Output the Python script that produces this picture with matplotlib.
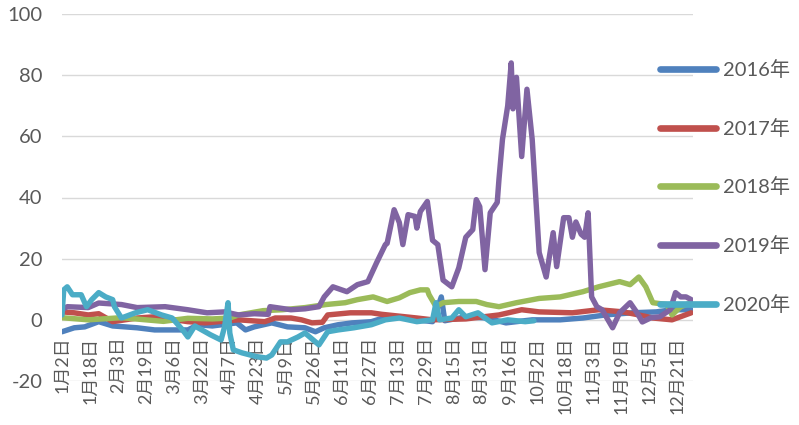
import numpy as np
import matplotlib
matplotlib.use('Agg')
import matplotlib.pyplot as plt

# day index on the category axis (0 = 1月2日) and values
d16 = [0, 7, 13, 21, 29, 43, 53, 72, 78, 86, 100, 105, 110, 120, 129, 139, 145, 150, 158, 166,
       177, 186, 193, 203, 212, 217, 219, 231, 243, 254, 269, 285, 298, 311, 326, 340, 349, 360]
v16 = [-3.9, -2.6, -2.3, -0.6, -2.0, -2.6, -3.3, -3.3, -1.6, -2.0, -1.0, -3.3, -2.3, -1.0, -2.3, -2.6, -3.9, -2.6, -1.6, -1.0,
       -0.6, 1.0, 1.0, 0.0, -0.6, 7.5, -0.3, 1.0, 0.6, -1.0, 0.0, 0.0, 0.6, 1.6, 2.3, 2.6, 3.3, 3.3]

d17 = [0, 7, 15, 21, 29, 43, 53, 72, 82, 101, 116, 122, 131, 137, 143, 149, 152, 165, 177, 183,
       203, 212, 231, 250, 263, 273, 292, 307, 321, 330, 338, 349, 360]
v17 = [2.6, 2.3, 1.6, 2.0, -0.6, 0.6, 1.0, -0.6, -1.0, 0.0, -0.6, 0.6, 0.6, 0.0, -1.0, -0.8, 1.6, 2.3, 2.3, 1.8,
       0.6, 0.0, 0.3, 1.6, 3.3, 2.6, 2.3, 3.3, 2.6, 1.6, 0.6, 0.0, 2.3]

d18 = [0, 15, 34, 58, 72, 86, 96, 101, 115, 126, 139, 151, 162, 169, 178, 186, 193, 199, 205, 209,
       210, 214, 218, 227, 237, 243, 250, 260, 273, 285, 298, 307, 319, 325, 330, 334, 338, 346, 349, 354, 360]
v18 = [0.7, 0.0, 0.7, -0.5, 0.5, 0.3, 0.6, 1.6, 3.0, 3.3, 4.0, 5.0, 5.6, 6.6, 7.5, 6.0, 7.2, 8.9, 9.8, 9.8,
       8.2, 4.3, 5.6, 6.0, 6.0, 5.0, 4.3, 5.6, 7.0, 7.5, 9.2, 10.8, 12.5, 11.5, 14, 10.8, 5.6, 5.0, 1.6, 4.3, 5.6]

d19 = [0, 3, 15, 21, 34, 43, 59, 72, 83, 93, 101, 110, 118, 119, 131, 139, 147, 150, 155, 163,
       169, 175, 180, 185, 186, 190, 193, 195, 198, 202, 203, 205, 209, 212, 215, 218, 223, 227, 231, 235,
       237, 239, 242, 245, 249, 250, 252, 255, 257, 258, 260, 263, 266, 269, 273, 277, 281, 283, 287, 290,
       292, 294, 297, 299, 301, 303, 306, 309, 315, 319, 325, 329, 332, 337, 342, 348, 351, 354, 357, 360]
v19 = [3.3, 4.3, 4.0, 5.5, 5.0, 4.0, 4.3, 3.3, 2.3, 2.6, 1.6, 2.0, 1.8, 4.3, 3.3, 3.6, 4.3, 7.5, 10.8, 9.2,
       11.5, 12.5, 18.7, 24.6, 25, 36, 31.8, 24.6, 34.4, 33.8, 30, 35.4, 38.7, 26, 24.6, 13, 10.8, 17, 27, 29.5,
       39.3, 37, 16.4, 35, 38.4, 46, 59, 70, 84, 69, 79.3, 53.4, 75.4, 59, 22, 14, 28.5, 17.4, 33.4, 33.4,
       27, 32, 28, 27, 35, 7.5, 4.3, 3.3, -2.6, 2.3, 5.6, 2.3, -0.7, 0.7, 1.0, 3.3, 8.9, 7.5, 7.5, 6.6]

d20 = [0, 1, 3, 6, 11, 14, 17, 21, 25, 29, 30, 34, 42, 49, 57, 63, 69, 72, 76, 80,
       85, 91, 93, 95, 96, 98, 103, 111, 117, 120, 125, 129, 135, 139, 145, 147, 152, 158, 167, 177,
       185, 193, 203, 212, 214, 216, 223, 227, 231, 238, 246, 255, 265, 270]
v20 = [1.6, 9.8, 10.8, 8.2, 8.2, 4.3, 6.6, 8.9, 7.5, 6.6, 4.3, 0.6, 2.3, 3.3, 1.6, 0.6, -3.3, -5.6, -2.0, -3.3,
       -4.9, -6.6, -2.3, 5.6, -4.3, -9.8, -10.8, -12.0, -12.5, -11.5, -7.2, -7.2, -5.6, -4.3, -7.2, -8.2, -3.9, -3.3, -2.6, -1.6,
       0.0, 0.6, -0.6, 0.0, 5.6, 0.0, 0.6, 3.3, 1.0, 2.3, -1.0, 0.0, -0.6, -0.3]

years = ['2016年', '2017年', '2018年', '2019年', '2020年']
colors = ['#4F81BD', '#C0504D', '#9BBB59', '#8064A2', '#4BACC6']

tick_labels = ['1月2日', '1月18日', '2月3日', '2月19日', '3月6日', '3月22日', '4月7日', '4月23日',
               '5月9日', '5月26日', '6月11日', '6月27日', '7月13日', '7月29日', '8月15日', '8月31日',
               '9月16日', '10月2日', '10月18日', '11月3日', '11月19日', '12月5日', '12月21日']
n_days = 362

plt.rcParams['font.family'] = ['Lato', 'Noto Sans CJK SC', 'DejaVu Sans']
plt.rcParams['axes.unicode_minus'] = False
text_color = '#595959'

fig = plt.figure(figsize=(7.99, 4.25), dpi=100)
ax = fig.add_axes([62/799, 1 - 381/425, (693 - 62)/799, (381 - 14)/425])

series = [(d16, v16), (d17, v17), (d18, v18), (d19, v19), (d20, v20)]
for (d, v), name, c in zip(series, years, colors):
    ax.plot(d, v, color=c, lw=3.9, label=name, solid_joinstyle='round', solid_capstyle='round')

ax.set_xlim(0, n_days - 1)
ax.set_ylim(-20, 100)
ax.set_yticks(range(-20, 101, 20))
ax.grid(axis='y', color='#D9D9D9', lw=1.0)
ax.set_axisbelow(True)

for s in ['top', 'right', 'left']:
    ax.spines[s].set_visible(False)
ax.spines['bottom'].set_position(('data', 0))
ax.spines['bottom'].set_visible(False)

ax.set_xticks(np.arange(len(tick_labels)) * 16)
ax.set_xticklabels(tick_labels, rotation=90, va='top', ha='center')
ax.tick_params(axis='x', length=0, pad=12, labelsize=13, labelcolor=text_color)
ax.tick_params(axis='y', length=0, pad=14, labelsize=14.5, labelcolor=text_color)

leg = ax.legend(loc='center left', bbox_to_anchor=(660/799, 1 - 187/425), bbox_transform=fig.transFigure,
                frameon=False, fontsize=14.5, borderpad=0, borderaxespad=0,
                handlelength=2.8, handletextpad=0.35, labelspacing=1.98)
for line in leg.get_lines():
    line.set_linewidth(4.8)
for t in leg.get_texts():
    t.set_color(text_color)

fig.savefig('out.png', dpi=100)
